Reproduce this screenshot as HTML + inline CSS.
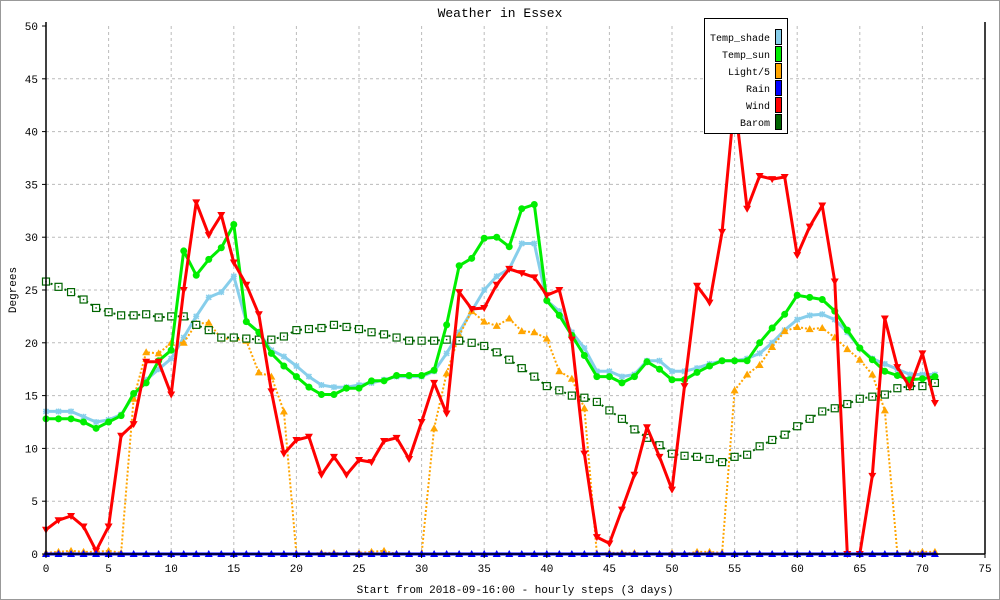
<!DOCTYPE html>
<html><head><meta charset="utf-8"><style>
body{margin:0;background:#fff}
svg{display:block;font-family:"Liberation Mono","DejaVu Sans Mono",monospace}
</style></head><body>
<svg id="chart" width="1000" height="600" viewBox="0 0 1000 600">
<rect x="0.5" y="0.5" width="999" height="599" fill="#fff" stroke="#999"/>
<text x="500" y="17" text-anchor="middle" font-size="13">Weather in Essex</text>
<text transform="translate(16,290) rotate(-90)" text-anchor="middle" font-size="11">Degrees</text>
<text x="515" y="593" text-anchor="middle" font-size="11">Start from 2018-09-16:00 - hourly steps (3 days)</text>
<g id="grid"></g>
<g id="series"></g>
<g id="axes"></g>
<g id="legend"></g>
</svg>
<script>
const xTicks=[0,5,10,15,20,25,30,35,40,45,50,55,60,65,70,75];
const yTicks=[0,5,10,15,20,25,30,35,40,45,50];
const tempShade=[13.5,13.5,13.5,13,12.5,12.7,13.2,15,16.5,17.5,18.5,20.5,22.5,24.3,24.8,26.3,22,21,19.3,18.7,17.8,16.8,16,15.8,15.8,16,16.2,16.5,16.8,16.8,16.8,17.3,19,21,23,25,26.3,27,29.4,29.4,24,23,21,19.5,17.3,17.3,16.8,17,18.3,18.3,17.3,17.3,17.6,18,18.3,18.3,18.5,19,20,21.2,22.2,22.6,22.7,22.2,21,19.5,18.5,18,17.5,17,17,17];
const tempSun=[12.8,12.8,12.8,12.5,11.9,12.5,13.1,15.2,16.2,18.3,19.3,28.7,26.4,27.9,29,31.2,22,21,19,17.8,16.8,15.8,15.1,15.1,15.7,15.7,16.4,16.4,16.9,16.9,16.9,17.4,21.7,27.3,28,29.9,30,29.1,32.7,33.1,24,22.6,20.7,18.8,16.8,16.8,16.2,16.8,18.2,17.5,16.5,16.5,17.2,17.8,18.3,18.3,18.3,20,21.4,22.7,24.5,24.3,24.1,23,21.2,19.5,18.4,17.3,16.9,16.5,16.6,16.8];
const light=[0.1,0.2,0.3,0.2,0.2,0.3,0.1,14.7,19.1,19,20,20,21.8,21.9,20.4,20.4,20.2,17.2,16.8,13.5,0,0,0.1,0.1,0,0.1,0.2,0.3,0,0,0,11.9,17.1,20.7,23,22,21.6,22.3,21.1,21,20.4,17.3,16.6,13.8,0,0.1,0.1,0.1,0,0,0.1,0,0.2,0.2,0.1,15.5,17,17.9,19.6,21.1,21.5,21.3,21.4,20.5,19.4,18.4,17,13.6,0,0.1,0.2,0.2];
const rain=new Array(72).fill(0);
const wind=[2.3,3.2,3.6,2.6,0.3,2.6,11.2,12.3,18.2,18.2,15.1,25,33.3,30.2,32.1,27.6,25.5,22.7,15.4,9.5,10.8,11.1,7.5,9.2,7.5,8.9,8.7,10.7,11,9,12.5,16.2,13.3,24.8,23.2,23.3,25.5,27,26.6,26.2,24.5,25,20.3,9.5,1.6,1,4.2,7.5,12,9.2,6.1,15.9,25.4,23.8,30.5,43,32.7,35.8,35.5,35.7,28.3,31,33,25.8,0,0,7.4,22.3,17.7,15.8,19,14.3];
const barom=[25.8,25.3,24.8,24.1,23.3,22.9,22.6,22.6,22.7,22.4,22.5,22.5,21.7,21.2,20.5,20.5,20.4,20.3,20.3,20.6,21.2,21.3,21.4,21.7,21.5,21.3,21.0,20.8,20.5,20.2,20.2,20.2,20.3,20.2,20.0,19.7,19.1,18.4,17.6,16.8,15.9,15.5,15.0,14.8,14.4,13.6,12.8,11.8,11.0,10.3,9.5,9.3,9.2,9.0,8.7,9.2,9.4,10.2,10.8,11.3,12.1,12.8,13.5,13.8,14.2,14.7,14.9,15.1,15.7,15.9,15.9,16.2];

const NS='http://www.w3.org/2000/svg';
const X0=46,X1=985,Y0=554,Y1=26;
const xs=v=>X0+(X1-X0)*v/75;
const ys=v=>Y0-(Y0-Y1)*v/50;
function mk(tag,attrs,parent){const e=document.createElementNS(NS,tag);for(const k in attrs)e.setAttribute(k,attrs[k]);parent.appendChild(e);return e;}
const grid=document.getElementById('grid'),axes=document.getElementById('axes'),ser=document.getElementById('series'),leg=document.getElementById('legend');
xTicks.forEach(t=>{
  if(t>0&&t<75){const l=mk('line',{x1:xs(t),x2:xs(t),y1:Y1,y2:Y0,stroke:'#bbb','stroke-dasharray':'3,3'},grid);
  
  }
  const tk=mk('line',{x1:xs(t),x2:xs(t),y1:Y0,y2:Y0+4,stroke:'#000'},axes);
  
  
  const tx=mk('text',{x:xs(t),y:Y0+18,'text-anchor':'middle','font-size':'11'},axes);tx.textContent=t;
  
  
});
yTicks.forEach(t=>{
  if(t>0&&t<50){const l=mk('line',{x1:X0,x2:X1,y1:ys(t),y2:ys(t),stroke:'#bbb','stroke-dasharray':'3,3'},grid);
  
  }
  const tk=mk('line',{x1:X0-4,x2:X0,y1:ys(t),y2:ys(t),stroke:'#000'},axes);
  
  
  const tx=mk('text',{x:X0-8,y:ys(t)+4,'text-anchor':'end','font-size':'11'},axes);tx.textContent=t;
  
  
});
const ax=mk('path',{d:`M${X0},${Y1-4}V${Y0}H${X1}M${X1},${Y1-4}V${Y0}`,stroke:'#000','stroke-width':1.5,fill:'none'},axes);



function marker(kind,x,y,color,g){
  let e;
  if(kind==='circle')e=mk('circle',{cx:x,cy:y,r:3.5,fill:color},g);
  else if(kind==='up')e=mk('path',{d:`M${x},${y-4}L${x+4},${y+3}L${x-4},${y+3}Z`,fill:color},g);
  else if(kind==='down')e=mk('path',{d:`M${x},${y+4}L${x+4},${y-3}L${x-4},${y-3}Z`,fill:color},g);
  else if(kind==='star')e=mk('path',{d:`M${x-3},${y}H${x+3}M${x},${y-3}V${y+3}M${x-2.5},${y-2.5}L${x+2.5},${y+2.5}M${x+2.5},${y-2.5}L${x-2.5},${y+2.5}`,stroke:color,'stroke-width':1.5},g);
  else if(kind==='square'){e=mk('rect',{x:x-3.5,y:y-3.5,width:7,height:7,fill:'#fff',stroke:color,'stroke-width':1.2},g);mk('rect',{x:x-0.7,y:y-0.7,width:1.4,height:1.4,fill:color},g);}
  return e;
}
const defs=[
 {name:'temp-shade',data:tempShade,color:'#87ceeb',w:3,dash:null,m:'star'},
 {name:'light',data:light,color:'#ffa500',w:2,dash:'2,2',m:'up'},
 {name:'barom',data:barom,color:'#006400',w:2,dash:'2,3',m:'square'},
 {name:'temp-sun',data:tempSun,color:'#00ee00',w:3,dash:null,m:'circle'},
 {name:'wind',data:wind,color:'#ff0000',w:3,dash:null,m:'down'},
 {name:'rain',data:rain,color:'#0000ff',w:3,dash:null,m:'up'}
];
defs.forEach(s=>{
  const g=mk('g',{},ser);
  
  
  const pts=s.data.map((v,i)=>xs(i).toFixed(1)+','+ys(v).toFixed(1)).join(' ');
  const a={points:pts,fill:'none',stroke:s.color,'stroke-width':s.w,'stroke-linejoin':'round'};
  if(s.dash)a['stroke-dasharray']=s.dash;
  const pl=mk('polyline',a,g);
  
  
  s.data.forEach((v,i)=>{const e=marker(s.m,xs(i),ys(v),s.color,g);
    
    });
});
// legend
const lb=mk('rect',{x:704.5,y:18.5,width:83,height:115,fill:'#fff',stroke:'#000'},leg);


const legNames=['Temp_shade','Temp_sun','Light/5','Rain','Wind','Barom'];
const legColors=['#87ceeb','#00ee00','#ffa500','#0000ff','#ff0000','#006400'];
legNames.forEach((n,i)=>{
  const y=37+i*17;
  const t=mk('text',{x:770,y:y+4,'text-anchor':'end','font-size':'10'},leg);t.textContent=n;
  
  
  const r=mk('rect',{x:775.5,y:y-7.5,width:6,height:15,fill:legColors[i],stroke:'#000'},leg);
  
  
});
</script>
</body></html>
